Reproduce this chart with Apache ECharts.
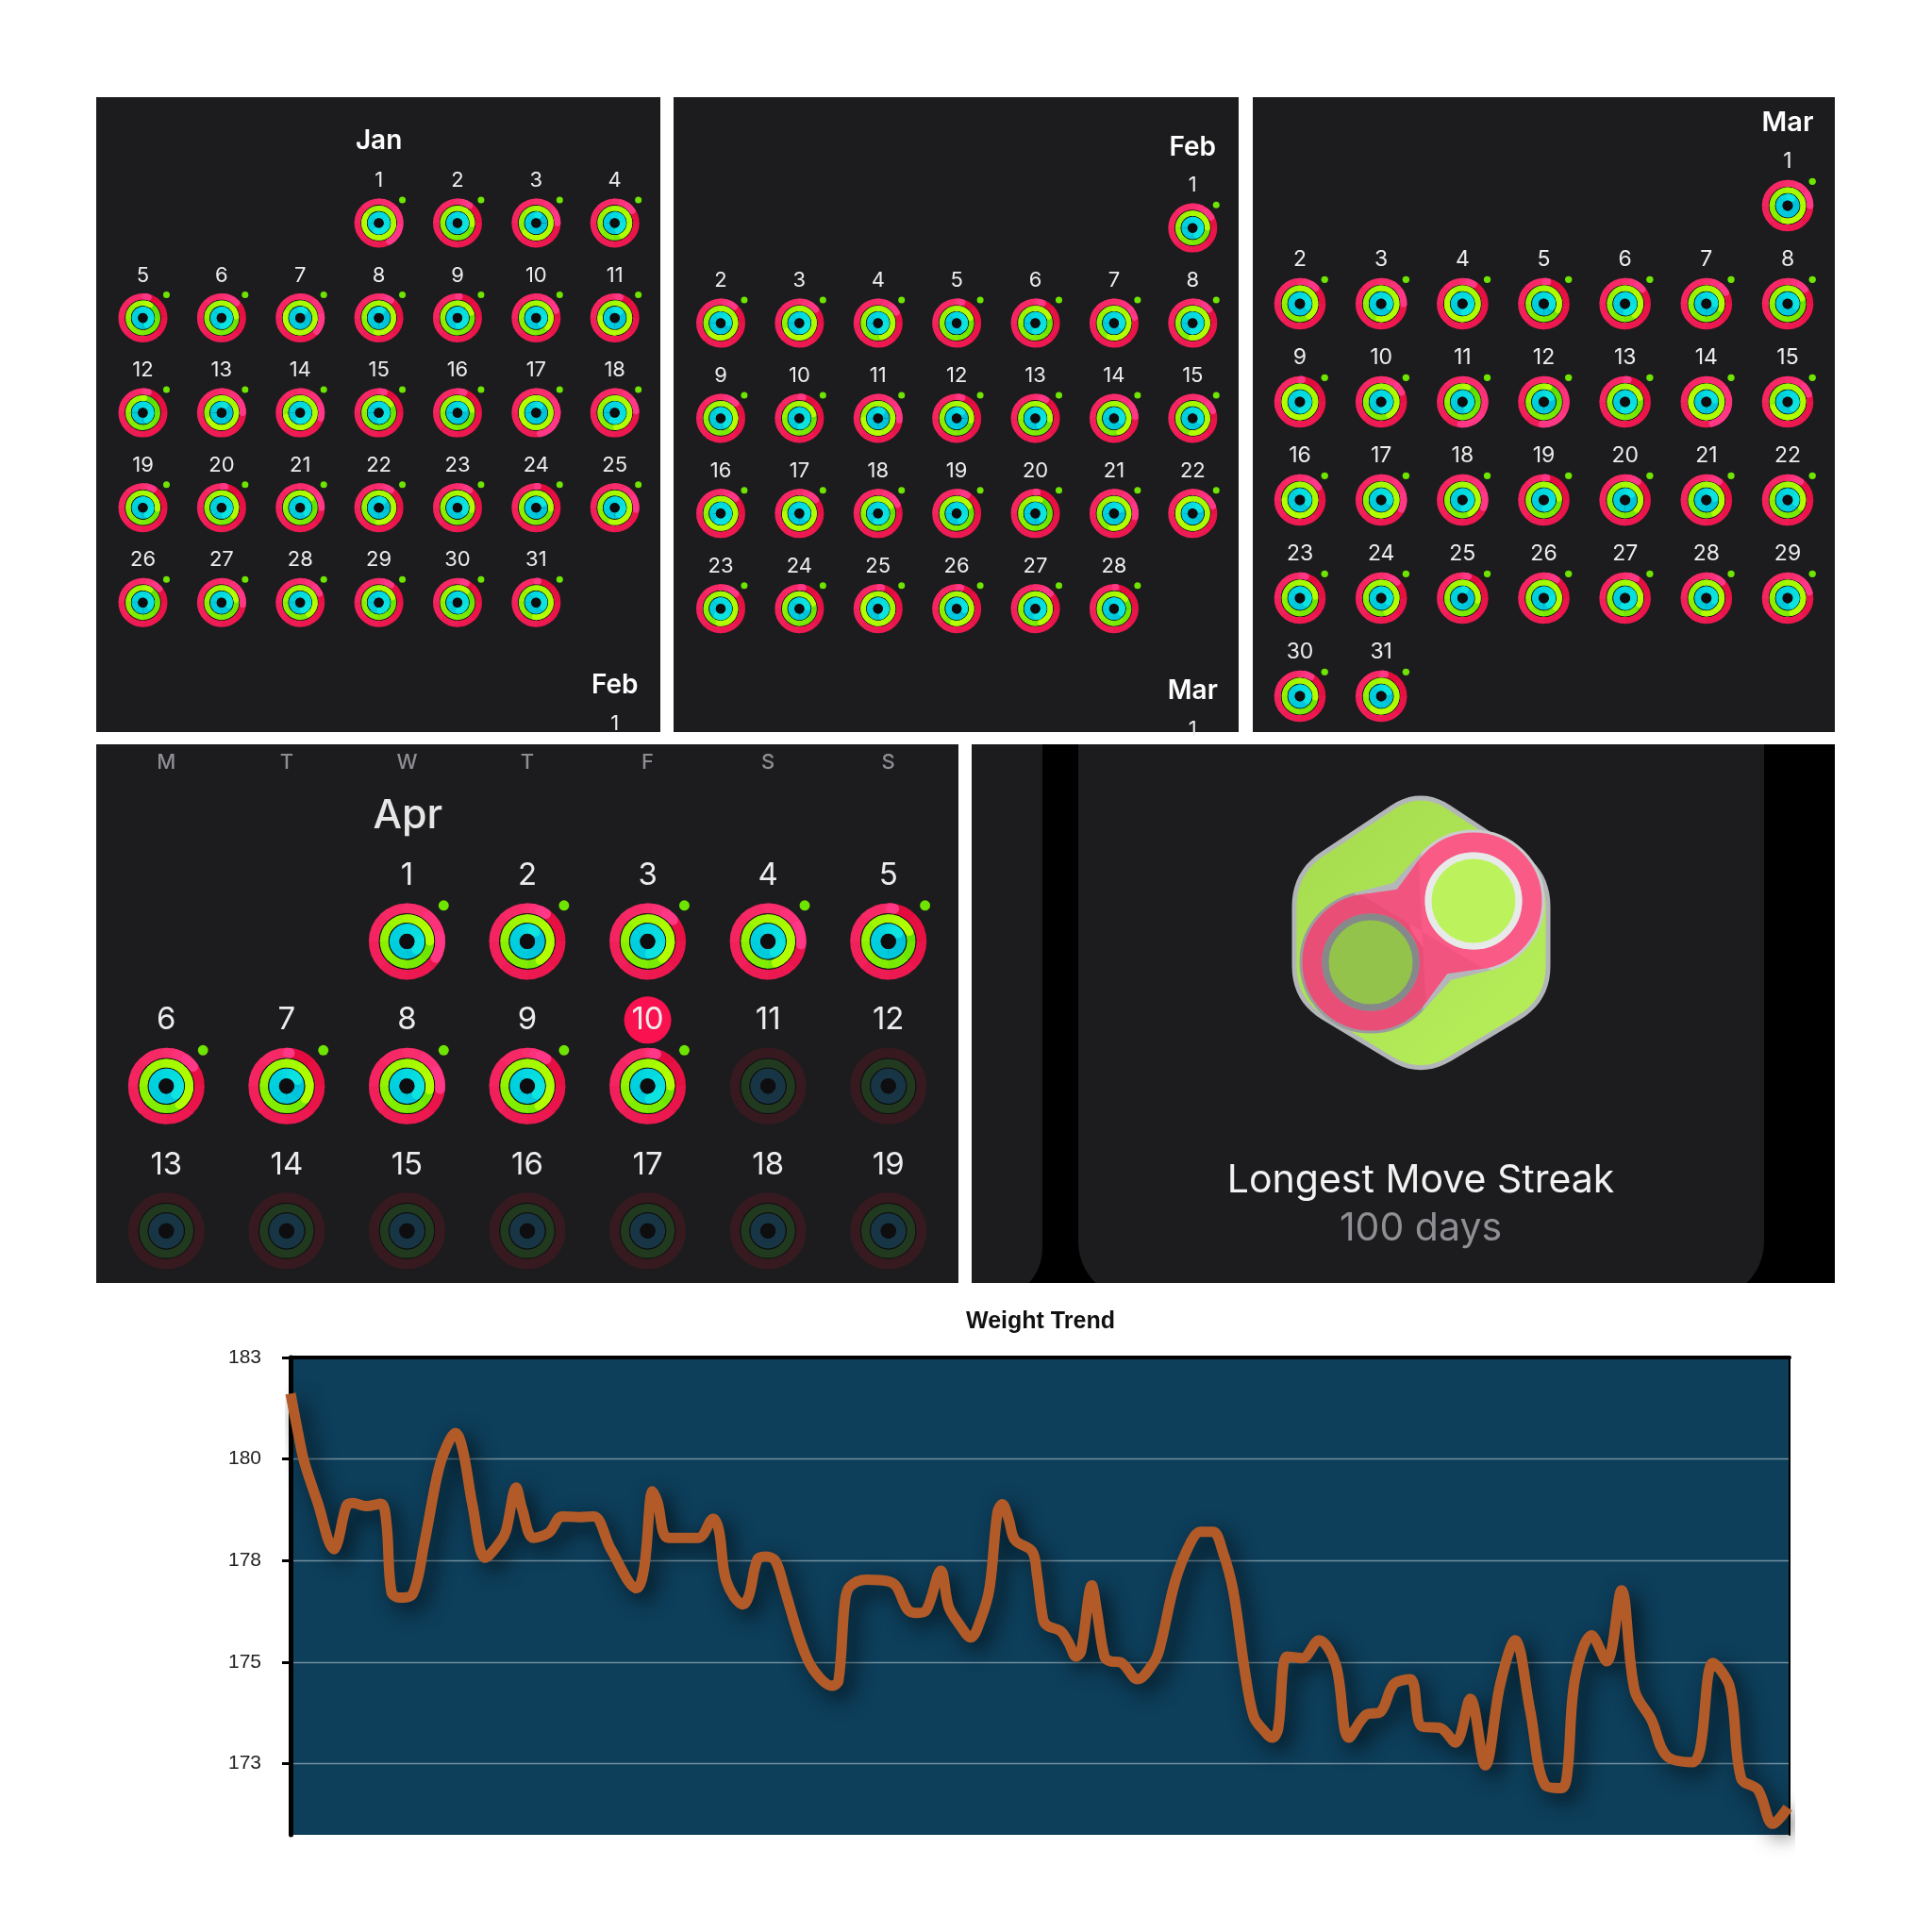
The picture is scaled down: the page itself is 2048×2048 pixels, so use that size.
<!DOCTYPE html>
<html>
<head>
<meta charset="utf-8">
<script src="https://cdn.jsdelivr.net/npm/echarts@6/dist/echarts.min.js"></script>
<style>
html,body{margin:0;padding:0;background:#fff;}
#main{width:2048px;height:2048px;}
</style>
</head>
<body>
<div id="main"></div>
<script>
// closing angle of each ring's second lap, degrees clockwise from 12 o'clock
var janMove = [150,35,90,55,15,45,130,35,5,70,15,15,90,105,15,18,170,85,30,10,90,35,35,5,95,50,95,65,35,25,5];
var janExercise = [300,95,230,150,30,85,290,190,70,130,270,5,240,255,55,80,350,175,95,125,50,185,100,95,195,30,80,145,70,40,185];
var janStand = [200,130,20,160,150,170,30,25,170,140,40,150,25,190,170,60,30,200,150,160,130,35,120,60,150,120,110,160,170,170,120];
var febMove = [60,40,50,60,15,20,75,50,45,10,95,15,30,85,70,45,50,65,30,5,100,70,45,10,10,12,45,5];
var febExercise = [90,225,240,165,70,65,200,185,130,75,265,100,95,160,185,235,270,60,60,20,190,345,190,70,330,195,160,50];
var febStand = [150,90,160,160,120,180,110,180,140,170,30,40,150,110,110,200,120,190,150,130,60,60,210,80,150,100,170,120];
var marMove = [90,45,90,30,10,50,60,50,5,65,185,185,8,165,70,55,115,110,8,35,35,35,15,45,15,35,30,45,75,30,10];
var marExercise = [195,145,190,320,115,140,110,70,320,150,20,20,75,340,250,270,215,150,85,130,150,120,85,160,100,130,115,190,165,95,215];
var marStand = [30,110,110,170,110,170,90,110,170,170,150,60,190,80,140,110,100,170,170,50,80,110,130,120,20,140,190,110,150,120,60];
var aprMove = [120,34,50,95,10,54,5,95,35,15];
var aprExercise = [90,147,140,160,65,145,125,100,150,90];
var aprStand = [130,40,170,150,50,130,60,130,130,170];
var aprDays = 19;
var todayNumber = 10;
var weekDays = ['M','T','W','T','F','S','S'];

// weight line
var weightDays = [0,0.55,0.92,1.79,2.92,3.16,3.74,4.16,5.03,6.03,6.4,6.73,7.28,8.15,8.9,9.77,10.27,11.01,11.51,12.14,13,14,14.38,15.05,15.45,16.2,17.24,18.12,19.24,20.23,21.36,23.1,23.6,24.15,24.47,25.2,27.2,28.2,28.58,29.08,30.2,30.58,31.15,31.72,32.35,32.98,34.03,34.87,36.13,36.55,36.97,37.29,38.44,39.91,40.44,41.17,41.8,42.43,43.38,43.9,44.54,45.38,46.11,46.64,47.16,47.48,47.9,48.32,49.47,49.79,50.21,50.52,51.36,51.89,52.41,52.73,53.46,53.78,54.3,54.72,55.35,56.51,57.56,57.98,59.03,60.08,60.71,61.55,62.18,62.88,63.63,64.25,64.87,65.49,65.87,66.49,67.49,68.61,69.73,70.6,71.72,72.72,73.6,74.71,75.46,76.71,77.71,78.7,79.7,80.7,81.69,82.69,83.69,84.81,85.18,85.68,86.8,87.8,88.79,89.67,90.79,91.78,93.53,94.03,94.9,96.02,96.77,97.89,98.89,99.88];
var weightValues = [181.61,180.55,179.92,178.95,177.78,177.97,178.86,178.92,178.84,178.9,178.41,176.73,176.59,176.68,177.88,179.57,180.19,180.64,180.19,178.86,177.57,177.97,178.24,179.3,178.77,178.06,178.19,178.59,178.57,178.59,177.79,176.82,177.35,179.21,178.95,178.06,178.06,178.53,178.24,176.99,176.42,176.64,177.53,177.6,177.49,176.77,175.5,174.82,174.42,174.54,176.45,176.85,177.03,176.99,176.85,176.29,176.21,176.29,177.25,176.37,175.97,175.61,176.13,176.85,178.69,178.89,178.53,178.01,177.73,177.17,176.05,175.89,175.77,175.49,175.14,175.26,176.89,176.29,175.14,175.02,175,174.58,174.98,175.34,177.01,177.97,178.21,178.21,177.73,176.77,174.86,173.66,173.34,173.14,173.34,175.14,175.1,175.54,174.94,173.14,173.7,173.78,174.46,174.58,173.42,173.38,173.02,174.1,172.46,174.46,175.54,173.82,171.98,171.9,172.3,174.58,175.66,175.02,176.77,174.3,173.58,172.7,172.54,172.86,174.98,174.38,172.14,171.86,171.02,171.42];
var weightTicks = [172.5,175,177.5,180,182.5];

var textFont = 'Inter, "Noto Sans", sans-serif';
var panelColor = '#1c1c1e';
var ringGap = '#0e0e10';
var lerp = echarts.color.lerp;

// one block of the calendar: where its 7 columns and rows sit on the page
var months = [
	{first:3, days:31, move:janMove, exercise:janExercise, stand:janStand, x0:151.5, x6:651.7, y0:236.4, y1:638.7, rows:4, R:26, font:22},
	{first:6, days:28, move:febMove, exercise:febExercise, stand:febStand, x0:764, x6:1264.3, y0:241.6, y1:645.2, rows:4, R:26, font:22},
	{first:6, days:31, move:marMove, exercise:marExercise, stand:marStand, x0:1378, x6:1895, y0:218, y1:738, rows:5, R:27.3, font:23},
	{first:2, days:aprDays, move:aprMove, exercise:aprExercise, stand:aprStand, x0:176.3, x6:941.7, y0:997.9, y1:1304.8, rows:2, R:40.5, font:33}
];

// arcs of one lap, split so that the colour moves from c0 to c1 along the way
function lap(cx, cy, r, w, deg, c0, c1, steps, cap) {
	var out = [];
	var start = -Math.PI / 2;
	var total = deg / 180 * Math.PI;
	for (var i = 0; i < steps; i++) {
		var a = start + total * i / steps;
		var b = start + total * (i + 1) / steps + (i < steps - 1 ? 0.03 : 0);
		out.push({
			type:'arc',
			shape:{cx:cx, cy:cy, r:r, startAngle:a, endAngle:b, clockwise:true},
			style:{fill:null, stroke:lerp((i + 0.5) / steps, [c0, c1]), lineWidth:w, lineCap:(cap ? 'round' : 'butt')}
		});
	}
	return out;
}
function disc(cx, cy, r) {
	return {type:'circle', shape:{cx:cx, cy:cy, r:r}, style:{fill:ringGap}};
}

function ringItem(m) {
	return function (params, api) {
		var p = api.coord([api.value(0), api.value(1)]);
		var cx = p[0], cy = p[1], R = m.R;
		var day = api.value(2);
		var mv = api.value(3), ex = api.value(4), st = api.value(5);
		var numY = cy - R * 1.73;
		var kids = [];
		if (m === months[3] && day === todayNumber) {
			kids.push({type:'circle', shape:{cx:cx, cy:numY, r:25}, style:{fill:'#fa114f'}});
		}
		kids.push({
			type:'text',
			style:{text:String(day), x:cx, y:numY, fill:'#ececec', font:'400 ' + m.font + 'px ' + textFont, align:'center', verticalAlign:'middle'}
		});
		if (mv < 0) {
			// days still to come
			kids = kids.concat(
				lap(cx, cy, R * 0.8675, R * 0.265, 360, '#371a20', '#371a20', 1),
				[disc(cx, cy, R * 0.735)],
				lap(cx, cy, R * 0.5975, R * 0.225, 360, '#21391f', '#21391f', 1),
				[disc(cx, cy, R * 0.485)],
				lap(cx, cy, R * 0.33, R * 0.26, 360, '#173544', '#173544', 1),
				[disc(cx, cy, R * 0.2)]
			);
			return {type:'group', children:kids};
		}
		kids = kids.concat(
			lap(cx, cy, R * 0.8675, R * 0.265, 360, '#e30a3b', '#f72a68', 8),
			lap(cx, cy, R * 0.8675, R * 0.265, mv, '#f72a68', '#ff3a8c', 3, true),
			[disc(cx, cy, R * 0.735)],
			lap(cx, cy, R * 0.5975, R * 0.225, 360, '#55de00', '#a4f800', 8),
			lap(cx, cy, R * 0.5975, R * 0.225, ex, '#a4f800', '#b6ff00', 3, true),
			[disc(cx, cy, R * 0.485)],
			lap(cx, cy, R * 0.33, R * 0.26, 360, '#00bcd8', '#00d6e0', 8),
			lap(cx, cy, R * 0.33, R * 0.26, st, '#00d6e0', '#0fe6e0', 3, true),
			[disc(cx, cy, R * 0.2)]
		);
		kids.push({type:'circle', shape:{cx:cx + R * 0.96, cy:cy - R * 0.94, r:R * 0.135}, style:{fill:'#6fe400'}});
		return {type:'group', children:kids};
	};
}

var grids = [], xAxes = [], yAxes = [], series = [];
months.forEach(function (m, i) {
	grids.push({left:m.x0, width:m.x6 - m.x0, top:m.y0, height:m.y1 - m.y0, show:false});
	xAxes.push({type:'value', gridIndex:i, min:0, max:6, show:false});
	yAxes.push({type:'value', gridIndex:i, min:0, max:m.rows, inverse:true, show:false});
	var data = [];
	for (var d = 1; d <= m.days; d++) {
		var k = m.first + d - 1;
		var done = d <= m.move.length;
		data.push([k % 7, Math.floor(k / 7), d, done ? m.move[d - 1] : -1, done ? m.exercise[d - 1] : -1, done ? m.stand[d - 1] : -1]);
	}
	series.push({type:'custom', xAxisIndex:i, yAxisIndex:i, clip:false, silent:true, encode:{x:0, y:1}, data:data, renderItem:ringItem(m)});
});

// the weight chart takes the last grid
var chartIndex = months.length;
grids.push({left:308, right:151, top:1439, bottom:103, show:true, backgroundColor:'#0d3e5a', borderWidth:0});
xAxes.push({
	type:'value', gridIndex:chartIndex, position:'top', min:0, max:100,
	axisLine:{show:true, onZero:false, lineStyle:{color:'#000', width:4}},
	axisTick:{show:false}, axisLabel:{show:false}, splitLine:{show:false}
});
yAxes.push({
	type:'value', gridIndex:chartIndex, min:170.75, max:182.5,
	axisLine:{show:true, onZero:false, lineStyle:{color:'#000', width:5}},
	axisTick:{show:true, length:9, customValues:weightTicks, lineStyle:{color:'#000', width:3}},
	axisLabel:{
		customValues:weightTicks, margin:31, fontSize:21, color:'#222', padding:[4,0,0,0], fontFamily:'"Liberation Sans", Arial, sans-serif',
		formatter:function (v) { return String(Math.round(v)); }
	},
	splitLine:{show:true, lineStyle:{color:'rgba(255,255,255,0.42)', width:1.4}}
});
yAxes.push({
	type:'value', gridIndex:chartIndex, position:'right', min:170.75, max:182.5,
	axisLine:{show:true, onZero:false, lineStyle:{color:'#000', width:2}},
	axisTick:{show:false}, axisLabel:{show:false}, splitLine:{show:false}
});
series.push({
	type:'line', xAxisIndex:chartIndex, yAxisIndex:chartIndex, clip:false, silent:true,
	data:weightDays.map(function (d, i) { return [d, weightValues[i]]; }),
	showSymbol:false, smooth:0.35,
	lineStyle:{color:'#b25b28', width:11, join:'round', shadowColor:'rgba(0,0,0,0.7)', shadowBlur:22, shadowOffsetX:8, shadowOffsetY:8},
	z:5
});

function box(x, y, w, h, fill, z, r) {
	return {type:'rect', shape:{x:x, y:y, width:w, height:h, r:r || 0}, style:{fill:fill}, z:z};
}
function label(text, x, y, font, fill) {
	return {type:'text', z:60, style:{text:text, x:x, y:y + 2, font:font + ' ' + textFont, fill:fill, align:'center', verticalAlign:'middle'}};
}
function ball(cx, cy, r, fill, stroke, w) {
	return {type:'circle', z:12, shape:{cx:cx, cy:cy, r:r}, style:{fill:fill, stroke:stroke || null, lineWidth:w || 0}};
}

// medal loops: centres of the two lobes
var lobeLow = [1453, 1020], lobeHigh = [1562, 955];
// fills one notch between the lobes: tip at distance d from the middle, sides tangent to circles of radius r
function notch(side, d, r, fill) {
	var mx = (lobeLow[0] + lobeHigh[0]) / 2, my = (lobeLow[1] + lobeHigh[1]) / 2;
	var ax = lobeHigh[0] - lobeLow[0], ay = lobeHigh[1] - lobeLow[1];
	var len = Math.hypot(ax, ay);
	var tip = [mx - side * d * ay / len, my + side * d * ax / len];
	function touch(L) {
		var wx = tip[0] - L[0], wy = tip[1] - L[1];
		var D = Math.hypot(wx, wy), base = Math.atan2(wy, wx), alpha = Math.acos(r / D);
		var p = [L[0] + r * Math.cos(base + alpha), L[1] + r * Math.sin(base + alpha)];
		var q = [L[0] + r * Math.cos(base - alpha), L[1] + r * Math.sin(base - alpha)];
		return Math.hypot(p[0] - mx, p[1] - my) > Math.hypot(q[0] - mx, q[1] - my) ? p : q;
	}
	return {type:'polygon', z:12, shape:{points:[tip, touch(lobeHigh), [mx, my], touch(lobeLow)]}, style:{fill:fill}};
}
// hexagon outline with its corners rounded off, as a plain point list
function medalOutline(corners, cut) {
	var pts = [];
	corners.forEach(function (c, i) {
		var a = corners[(i + corners.length - 1) % corners.length];
		var b = corners[(i + 1) % corners.length];
		var la = Math.hypot(a[0] - c[0], a[1] - c[1]);
		var lb = Math.hypot(b[0] - c[0], b[1] - c[1]);
		var p0 = [c[0] + (a[0] - c[0]) * cut / la, c[1] + (a[1] - c[1]) * cut / la];
		var p1 = [c[0] + (b[0] - c[0]) * cut / lb, c[1] + (b[1] - c[1]) * cut / lb];
		for (var t = 0; t <= 1.001; t += 0.1) {
			pts.push([
				(1 - t) * (1 - t) * p0[0] + 2 * t * (1 - t) * c[0] + t * t * p1[0],
				(1 - t) * (1 - t) * p0[1] + 2 * t * (1 - t) * c[1] + t * t * p1[1]
			]);
		}
	});
	return pts;
}

var apr = months[3];
var pageBits = [
	// panels
	box(102, 103, 598, 673, panelColor, -5),
	box(714, 103, 599, 673, panelColor, -5),
	box(1328, 103, 617, 673, panelColor, -5),
	box(102, 789, 914, 571, panelColor, -5),
	box(1030, 789, 915, 571, '#000', -5),
	box(1030, 789, 75, 589, panelColor, -4, [0, 0, 55, 0]),
	box(1143, 789, 727, 589, panelColor, -4, [0, 0, 62, 62]),
	// month headings and the peek at next month
	label('Jan', 401.6, 148, '600 28px', '#fff'),
	label('Feb', 651.7, 725, '600 28px', '#fff'),
	label('1', 651.7, 765, '400 22px', '#ececec'),
	label('Feb', 1264.3, 155, '600 28px', '#fff'),
	label('Mar', 1264.3, 731, '600 28px', '#fff'),
	label('1', 1264.3, 771, '400 22px', '#ececec'),
	label('Mar', 1895, 128, '600 29px', '#fff'),
	label('Apr', 432.3, 863, '500 43px', '#e6e6e6'),
	label('Longest Move Streak', 1506, 1250, '400 41px', '#f2f2f2'),
	label('100 days', 1506, 1301, '400 41px', '#8e8e93'),
	// medal
	{
		type:'polygon', z:10,
		shape:{points:medalOutline([[1506,836],[1641,925],[1641,1060],[1506,1141],[1372,1060],[1372,925]], 36)},
		style:{
			fill:new echarts.graphic.LinearGradient(0, 0, 1, 1, [{offset:0, color:'#a4da4e'}, {offset:1, color:'#b8f05a'}]),
			stroke:'#b3b6b8', lineWidth:5
		}
	},
	ball(lobeLow[0], lobeLow[1], 61, null, '#9a9d9f', 29),
	ball(lobeHigh[0], lobeHigh[1], 61, null, '#c9cdce', 29),
	notch(1, 60, 75.5, '#b4b7b9'),
	notch(-1, 60, 75.5, '#b4b7b9'),
	ball(lobeLow[0], lobeLow[1], 62, null, '#e94f76', 21),
	ball(lobeHigh[0], lobeHigh[1], 62, null, '#fa5a86', 21),
	notch(1, 52, 72.5, '#f25480'),
	notch(-1, 52, 72.5, '#f25480'),
	ball(lobeLow[0], lobeLow[1], 48, '#94c34b', '#85898a', 7),
	ball(lobeHigh[0], lobeHigh[1], 48, '#bcf35c', '#e8eaea', 7),
	// page white over whatever runs off the panels
	box(102, 776, 1843, 13, '#fff', 50),
	box(1030, 1360, 915, 20, '#fff', 50)
];
weekDays.forEach(function (w, i) {
	pageBits.push(label(w, apr.x0 + (apr.x6 - apr.x0) * i / 6, 806, '500 22px', '#8e8e93'));
});

var chart = echarts.init(document.getElementById('main'));
chart.setOption({
	animation:false,
	backgroundColor:'#fff',
	title:{
		text:'Weight Trend', left:1098, top:1396, textAlign:'center', textVerticalAlign:'middle',
		textStyle:{color:'#111', fontSize:25, fontWeight:'bold', fontFamily:'"Liberation Sans", Arial, sans-serif'}
	},
	tooltip:{show:false},
	grid:grids,
	xAxis:xAxes,
	yAxis:yAxes,
	series:series,
	graphic:{elements:pageBits}
});
</script>
</body>
</html>
